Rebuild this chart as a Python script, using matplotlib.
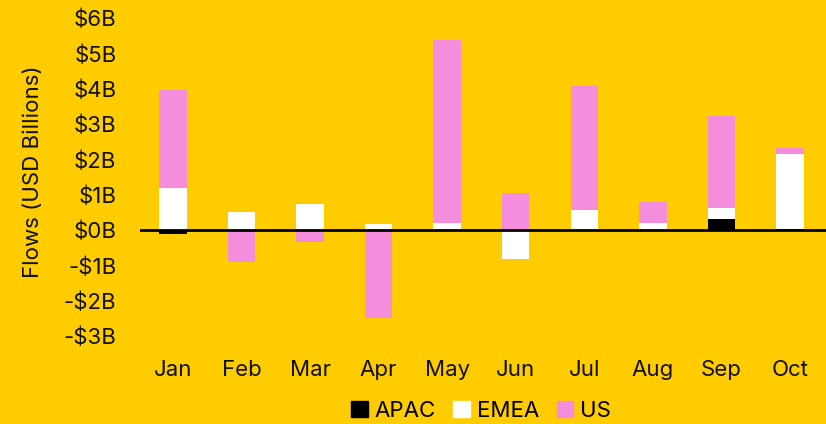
import matplotlib.pyplot as plt
import numpy as np
from matplotlib.patches import Patch

plt.rcParams['font.family'] = ['Inter', 'DejaVu Sans']

months = ['Jan', 'Feb', 'Mar', 'Apr', 'May', 'Jun', 'Jul', 'Aug', 'Sep', 'Oct']
apac = [-0.12, 0.0, 0.0, 0.0, 0.0, 0.0, 0.0, 0.0, 0.30, 0.02]
emea = [1.20, 0.52, 0.74, 0.16, 0.19, -0.81, 0.57, 0.19, 0.33, 2.12]
us = [2.77, -0.90, -0.33, -2.48, 5.19, 1.06, 3.51, 0.61, 2.60, 0.19]

series = [('APAC', apac, '#000000'), ('EMEA', emea, '#FFFFFF'), ('US', us, '#F48EDC')]
bg = '#FFCC00'

fig = plt.figure(figsize=(8.26, 4.24), dpi=100, facecolor=bg)
ax = fig.add_axes([140 / 826, 1 - 350 / 424, 686 / 826, 342 / 424])
ax.set_facecolor(bg)

x = np.arange(len(months))
pos_base = np.zeros(len(months))
neg_base = np.zeros(len(months))
for name, vals, col in series:
    v = np.array(vals)
    base = np.where(v >= 0, pos_base, neg_base)
    ax.bar(x, v, 0.4, bottom=base, color=col, label=name, zorder=2)
    pos_base += np.where(v >= 0, v, 0)
    neg_base += np.where(v < 0, v, 0)

ax.axhline(0, color='black', lw=2, zorder=3)
ax.set_xlim(-0.48, 9.525)
ax.set_ylim(-3.4, 6.29)
ax.set_yticks(range(-3, 7))
ax.set_yticklabels([f'-${-t}B' if t < 0 else f'${t}B' for t in range(-3, 7)])
ax.set_xticks(x)
ax.set_xticklabels(months)
ax.tick_params(length=0, labelsize=16, colors='#111111')
ax.tick_params(axis='x', pad=7)
ax.tick_params(axis='y', pad=17)
for s in ax.spines.values():
    s.set_visible(False)
ax.set_ylabel('Flows (USD Billions)', fontsize=16, color='#111111')
ax.yaxis.set_label_coords(-0.142, 0.52)

handles = [Patch(color=c, label=n) for n, _, c in series]
fig.legend(handles=handles, loc='center', bbox_to_anchor=(481 / 826, 1 - 411 / 424),
           ncol=3, frameon=False, fontsize=16, handlelength=0.75, handleheight=0.75,
           handletextpad=0.3, columnspacing=0.8, borderpad=0)

fig.savefig('out.png', dpi=100, facecolor=bg)
